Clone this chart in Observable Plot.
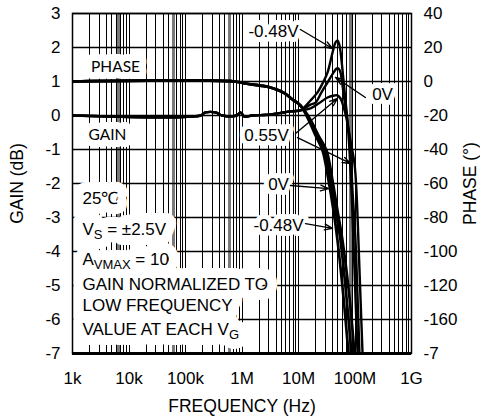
<!DOCTYPE html>
<html><head><meta charset="utf-8">
<script src="https://cdn.jsdelivr.net/npm/d3@7"></script>
<script src="https://cdn.jsdelivr.net/npm/@observablehq/plot@0.6"></script>
<style>body{margin:0;background:#fff} svg{display:block}</style>
</head><body><div id="chart"></div>
<script>
// ---- axis ticks ----
const freqTicks = [1e3, 1e4, 1e5, 1e6, 1e7, 1e8, 1e9];
const freqTickLabels = ["1k", "10k", "100k", "1M", "10M", "100M", "1G"];
const gainTicks = [3, 2, 1, 0, -1, -2, -3, -4, -5, -6, -7];
const phaseTickLabels = ["40", "20", "0", "-20", "-40", "-60", "-80", "-100", "-120", "-160", "-7"];

// ---- phase curves (degrees) ----
const phaseFreqM048 = [1e3, 7.36e5, 1.15e6, 2.12e6, 3.19e6, 5.43e6, 7.83e6, 1.08e7, 1.5e7, 2.0e7, 2.66e7, 3.4e7, 4.16e7, 4.9e7, 6.26e7, 7.67e7];
const phaseDegM048  = [0, 0, -1.2, -2.4, -3.5, -6.5, -10.6, -14.1, -22.4, -31.8, -40.6, -58.2, -75.9, -93.5, -127, -160];
const phaseFreq0V   = [1e3, 7.36e5, 1.15e6, 2.12e6, 3.19e6, 5.43e6, 7.83e6, 1.08e7, 1.57e7, 2.17e7, 2.88e7, 3.68e7, 4.52e7, 5.54e7, 7.07e7, 8.67e7];
const phaseDeg0V    = [0, 0, -1.2, -2.4, -3.5, -6.5, -10.6, -14.1, -22.4, -31.8, -40.6, -58.2, -75.9, -93.5, -127, -160];
const phaseFreqP055 = [1e3, 7.36e5, 1.15e6, 2.12e6, 3.19e6, 5.43e6, 7.83e6, 1.08e7, 1.63e7, 2.26e7, 3.13e7, 4.0e7, 4.9e7, 6.01e7, 7.99e7, 9.79e7];
const phaseDegP055  = [0, 0, -1.2, -2.4, -3.5, -6.5, -10.6, -14.1, -22.4, -31.8, -40.6, -58.2, -75.9, -93.5, -127, -160];

// ---- gain curves (dB) ----
const gainFreqM048 = [1e3, 1.84e5, 2.26e5, 3.4e5, 4.5e5, 8.0e5, 9.4e5, 1.1e6, 1.53e6, 3.19e6, 5.43e6, 7.2e6, 1.08e7, 1.63e7, 2.17e7, 2.66e7, 3.26e7, 4.0e7, 4.52e7, 4.9e7, 5.32e7, 5.77e7, 6.26e7, 6.79e7, 7.36e7, 7.99e7, 8.67e7, 9.4e7, 1.02e8, 1.11e8];
const gainDbM048   = [0, 0, 0.09, 0.09, 0, 0, 0.09, -0.03, 0, 0.03, 0.09, 0.12, 0.15, 0.44, 0.68, 0.94, 1.26, 1.85, 2.15, 2.21, 2.06, 1.62, 1.03, 0.44, -0.15, -1.03, -2.21, -3.68, -5.35, -7];
const gainFreq0V   = [1e3, 1.84e5, 2.26e5, 3.4e5, 4.5e5, 8.0e5, 9.4e5, 1.1e6, 1.53e6, 3.19e6, 5.43e6, 7.2e6, 1.08e7, 1.63e7, 2.0e7, 2.55e7, 3.26e7, 4.16e7, 4.71e7, 5.1e7, 5.54e7, 6.01e7, 6.52e7, 7.36e7, 8.32e7, 9.03e7, 1.02e8, 1.11e8, 1.2e8];
const gainDb0V     = [0, 0, 0.09, 0.09, 0, 0, 0.09, -0.03, 0, 0.03, 0.09, 0.12, 0.15, 0.32, 0.38, 0.68, 0.97, 1.26, 1.38, 1.38, 1.26, 0.88, 0.44, -0.15, -1.03, -2.21, -3.68, -5.35, -7];
const gainFreqP055 = [1e3, 1.84e5, 2.26e5, 3.4e5, 4.5e5, 8.0e5, 9.4e5, 1.1e6, 1.53e6, 3.19e6, 5.43e6, 7.2e6, 1.08e7, 1.63e7, 2.26e7, 3.26e7, 4.34e7, 4.9e7, 5.54e7, 6.26e7, 7.07e7, 8.32e7, 9.79e7, 1.06e8, 1.15e8, 1.25e8, 1.36e8];
const gainDbP055   = [0, 0, 0.09, 0.09, 0, 0, 0.09, -0.03, 0, 0.03, 0.09, 0.12, 0.15, 0.21, 0.35, 0.53, 0.59, 0.59, 0.5, 0.26, -0.09, -0.74, -1.41, -2.21, -3.68, -5.35, -7];

// ---- darker (doubled) grid bands seen in the scan ----
const grayBandFreqs = [6.5e3, 6.1e4, 6.0e5, 8.3e7];

// ---- annotations ----
const curveLabels = ["-0.48V", "0V", "0.55V", "0V", "-0.48V"];
const curveLabelFreq = [3.61e6, 3.07e8, 2.72e6, 4.43e6, 4.43e6];
const curveLabelGain = [2.47, 0.62, -0.59, -2.03, -3.24];

const arrowFromFreq = [1.08e7, 1.53e8, 8.85e6, 9.6e6, 7.2e6, 1.33e7];
const arrowFromGain = [2.53, 0.53, -0.53, -0.65, -2.06, -3.18];
const arrowToFreq   = [4.0e7, 4.52e7, 4.9e7, 8.32e7, 3.4e7, 4.0e7];
const arrowToGain   = [1.97, 1.12, 0.5, -1.41, -2.15, -3.32];

const legendLabels = ["PHASE", "GAIN"];
const legendFreq = [5.77e3, 4.16e3];
const legendGain = [1.44, -0.56];

const noteLines = ["25℃", "V{S} = ±2.5V", "A{VMAX} = 10", "GAIN NORMALIZED TO", "LOW FREQUENCY", "VALUE AT EACH V{G}"];
const noteFreq = 1.5e3;
const noteGain = [-2.43, -3.34, -4.24, -4.97, -5.58, -6.29];

// ---- build tables ----
const toPlotY = (deg) => (deg + 20) / 20; // phase axis: 0° at 1, 20° per division
function rows(fs, vs, s, conv = (v) => v) { return fs.map((f, i) => ({f, v: conv(vs[i]), s})); }
const phaseRows = [
  ...rows(phaseFreqM048, phaseDegM048, "-0.48V", toPlotY),
  ...rows(phaseFreq0V, phaseDeg0V, "0V", toPlotY),
  ...rows(phaseFreqP055, phaseDegP055, "0.55V", toPlotY)
];
const gainRows = [
  ...rows(gainFreqM048, gainDbM048, "-0.48V"),
  ...rows(gainFreq0V, gainDb0V, "0V"),
  ...rows(gainFreqP055, gainDbP055, "0.55V")
];
const minorGrid = [];
for (let d = 1e3; d < 1e9; d *= 10) for (let k = 1; k < 10; k++) minorGrid.push(d * k);
minorGrid.push(1e9);

const labelRows = curveLabels.map((t, i) => ({t, f: curveLabelFreq[i], g: curveLabelGain[i]}));
const arrowRows = arrowFromFreq.map((f, i) => ({x1: f, y1: arrowFromGain[i], x2: arrowToFreq[i], y2: arrowToGain[i]}));
const legendRows = legendLabels.map((t, i) => ({t, f: legendFreq[i], g: legendGain[i]}));
const noteRows = noteLines.map((t, i) => ({t, f: noteFreq, g: noteGain[i]}));
const phaseLabelOf = new Map(gainTicks.map((g, i) => [g, phaseTickLabels[i]]));
const freqLabelOf = new Map(freqTicks.map((f, i) => [f, freqTickLabels[i]]));

const font = "'Liberation Sans', Arial, Helvetica, sans-serif";
const legendFont = "Lato, 'Open Sans', sans-serif";

// white box-like halo drawn underneath the text (separate layer so tspans don't erase each other)
function haloText(data, opts, halo) {
  return [
    Plot.text(data, {...opts, fill: "white", stroke: "white", strokeWidth: halo, strokeLinejoin: "round", ariaHidden: true}),
    Plot.text(data, {...opts, fill: "black"})
  ];
}

const chart = Plot.plot({
  width: 480, height: 418,
  marginLeft: 72, marginRight: 69, marginTop: 13, marginBottom: 65,
  style: {fontFamily: font, fontSize: "17px", background: "white", color: "black"},
  x: {type: "log", domain: [1e3, 1e9]},
  y: {domain: [-7, 3]},
  marks: [
    Plot.ruleX(minorGrid, {stroke: "black", strokeWidth: 1, shapeRendering: "crispEdges"}),
    Plot.ruleX(grayBandFreqs, {stroke: "#7a7a7a", strokeWidth: 3.5, shapeRendering: "crispEdges"}),
    Plot.ruleY(gainTicks, {stroke: "black", strokeWidth: 1.5}),
    Plot.line(phaseRows, {x: "f", y: "v", z: "s", curve: "catmull-rom", stroke: "black", strokeWidth: 2.7, clip: true}),
    Plot.line(gainRows, {x: "f", y: "v", z: "s", curve: "catmull-rom", stroke: "black", strokeWidth: 2.4, clip: true}),
    ...haloText(noteRows, {x: "f", y: "g", text: "t", textAnchor: "start", fontSize: 17}, 20),
    ...haloText(legendRows, {x: "f", y: "g", text: "t", fontFamily: legendFont, fontSize: 15.5}, 14),
    ...haloText(labelRows, {x: "f", y: "g", text: "t", fontSize: 17}, 10),
    Plot.arrow(arrowRows, {x1: "x1", y1: "y1", x2: "x2", y2: "y2", stroke: "black", strokeWidth: 1.4, headLength: 9, headAngle: 40}),
    Plot.frame({stroke: "black", strokeWidth: 1.5}),
    Plot.ruleY([-7], {stroke: "black", strokeWidth: 3}),
    Plot.axisX({ticks: freqTicks, tickFormat: (d) => freqLabelOf.get(d), tickSize: 0, tickPadding: 18, label: null, fontSize: 17}),
    Plot.axisY({ticks: gainTicks, tickFormat: (d) => String(d), tickSize: 0, tickPadding: 12, label: null, fontSize: 17}),
    Plot.axisY({anchor: "right", ticks: gainTicks, tickFormat: (d) => phaseLabelOf.get(d), tickSize: 0, tickPadding: 12, label: null, fontSize: 17}),
    Plot.text(["FREQUENCY (Hz)"], {frameAnchor: "bottom", dy: 53, lineAnchor: "middle", textAnchor: "middle", fontSize: 17.5}),
    Plot.text(["GAIN (dB)"], {frameAnchor: "left", dx: -55, rotate: -90, lineAnchor: "middle", textAnchor: "middle", fontSize: 17.5}),
    Plot.text(["PHASE (°)"], {frameAnchor: "right", dx: 59, rotate: -90, lineAnchor: "middle", textAnchor: "middle", fontSize: 17.5})
  ]
});

// subscripts: text written as V{S} becomes V with a lowered, smaller S
chart.querySelectorAll("text").forEach((t) => {
  const s = t.textContent;
  if (!s.includes("{")) return;
  while (t.firstChild) t.removeChild(t.firstChild);
  const parts = s.split(/(\{[^}]*\})/).filter((p) => p.length);
  let lowered = false;
  for (const p of parts) {
    const ts = document.createElementNS("http://www.w3.org/2000/svg", "tspan");
    if (p.startsWith("{")) {
      ts.textContent = p.slice(1, -1);
      ts.setAttribute("font-size", "13px");
      ts.setAttribute("dy", "4");
      lowered = true;
    } else {
      ts.textContent = p;
      if (lowered) { ts.setAttribute("dy", "-4"); lowered = false; }
    }
    t.appendChild(ts);
  }
});

document.getElementById("chart").appendChild(chart);
</script></body></html>
